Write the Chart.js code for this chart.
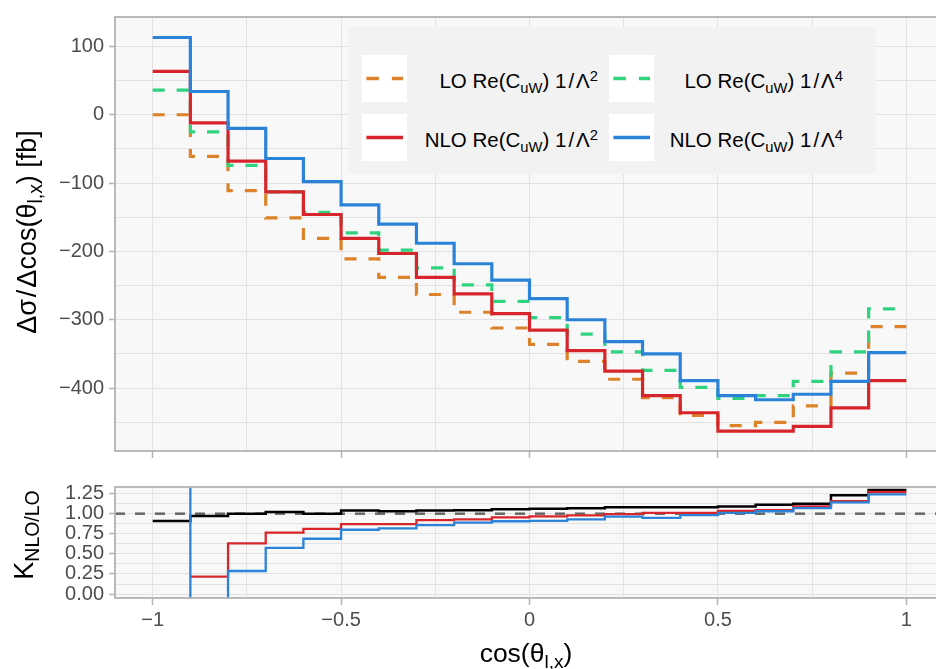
<!DOCTYPE html>
<html>
<head>
<meta charset="utf-8">
<script src="https://cdn.jsdelivr.net/npm/chart.js@4.4.1/dist/chart.umd.min.js"></script>
<style>
  html, body { margin: 0; padding: 0; width: 936px; height: 669px; overflow: hidden; background: #fff; }
  body { position: relative; font-family: "Liberation Sans", Arial, sans-serif; color: #000; }
  canvas { position: absolute; left: 0; }
  #topChart { top: 0; }
  #ratioChart { top: 470px; }
  sub { font-size: 0.72em; vertical-align: -0.32em; line-height: 0; }
  sup { font-size: 0.72em; vertical-align: 0.5em; line-height: 0; }
  .title { position: absolute; white-space: nowrap; transform: translate(-50%, -50%); font-size: 26.5px; }
  .title.rot { transform: translate(-50%, -50%) rotate(-90deg); }
  .sl { margin: 0 2px; }
  #legend { position: absolute; left: 348px; top: 27px; width: 528px; height: 147px; background: #f2f2f2; }
  .key { position: absolute; width: 45px; height: 47px; background: #fff; }
  .lab { position: absolute; height: 47px; line-height: 47px; text-align: right; font-size: 20.5px; white-space: nowrap; }
</style>
</head>
<body>
<canvas id="topChart" width="944" height="470"></canvas>
<canvas id="ratioChart" width="944" height="199"></canvas>

<div class="title rot" style="left:27px; top:232px; font-size:27px;">Δσ<span class="sl">/</span>Δcos(θ<sub>l,x</sub>) [fb]</div>
<div class="title rot" style="left:24px; top:535px; font-size:27px;">K<sub>NLO/LO</sub></div>
<div class="title" style="left:526px; top:653px;">cos(θ<sub>l,x</sub>)</div>
<div id="legend"></div>

<script>
// bin edges of cos(theta_l,x)
const binEdges = [-1, -0.9, -0.8, -0.7, -0.6, -0.5, -0.4, -0.3, -0.2, -0.1, 0,
                  0.1, 0.2, 0.3, 0.4, 0.5, 0.6, 0.7, 0.8, 0.9, 1];

// d sigma / d cos [fb], one value per bin
const loL2  = [0, -61, -111, -151, -181, -211, -238, -263, -289, -312,
               -336, -361, -387, -414, -440, -455, -450, -426, -378, -310];
const loL4  = [36, -25, -74, -113, -143, -173, -198, -224, -249, -273,
               -297, -321, -347, -374, -399, -415, -411, -390, -347, -284];
const nloL2 = [63.5, -12, -68, -113, -146, -181, -203, -238, -262, -291,
               -315, -345, -375, -411, -436, -463, -463, -456, -429, -389];
const nloL4 = [113, 34, -20, -64, -98, -132, -160, -188, -218, -242,
               -269, -300, -332, -350, -389, -411, -417, -409, -390, -348];

// K factors NLO/LO
const kBlack = [0.91, 0.97, 1.00, 1.02, 1.00, 1.04, 1.03, 1.04, 1.044, 1.056,
                1.06, 1.068, 1.08, 1.08, 1.08, 1.088, 1.11, 1.125, 1.23, 1.295];
const kL2    = [null, 0.218, 0.63, 0.765, 0.81, 0.87, 0.87, 0.92, 0.93, 0.955,
                0.967, 0.98, 0.995, 1.01, 1.01, 1.035, 1.044, 1.092, 1.157, 1.27];
const kL4    = [3.1, -1.4, 0.287, 0.574, 0.688, 0.80, 0.817, 0.858, 0.89, 0.906,
                0.91, 0.93, 0.963, 0.947, 0.983, 1.01, 1.03, 1.068, 1.14, 1.24];
const kRef = 1;

// ticks
const xTicks = [-1, -0.75, -0.5, -0.25, 0, 0.25, 0.5, 0.75, 1];
const yTicksTop = [-450, -400, -350, -300, -250, -200, -150, -100, -50, 0, 50, 100];
const yTicksRatio = [0, 0.125, 0.25, 0.375, 0.5, 0.625, 0.75, 0.875, 1, 1.125, 1.25];

const seriesNames = [
  'LO Re(C<sub>uW</sub>) 1<span class="sl">/</span>Λ<sup>2</sup>',
  'LO Re(C<sub>uW</sub>) 1<span class="sl">/</span>Λ<sup>4</sup>',
  'NLO Re(C<sub>uW</sub>) 1<span class="sl">/</span>Λ<sup>2</sup>',
  'NLO Re(C<sub>uW</sub>) 1<span class="sl">/</span>Λ<sup>4</sup>'
];

const ORANGE = '#dc8228', GREEN = '#2fd37f', RED = '#d7262b', BLUE = '#2b82d9';
const FONT = { family: "'Liberation Sans', Arial, sans-serif", size: 20 };

function steps(vals) {
  const pts = vals.map((v, i) => ({ x: binEdges[i], y: v }));
  pts.push({ x: binEdges[vals.length], y: vals[vals.length - 1] });
  return pts;
}

function minus(v) {
  return v < 0 ? '\u2212' + String(-v) : String(v);
}

const isMajorX = v => Math.abs(v * 2 - Math.round(v * 2)) < 1e-9;

// panel background + border like ggplot
const panel = {
  id: 'panel',
  beforeDraw(chart) {
    const { ctx, chartArea: a } = chart;
    ctx.save();
    ctx.fillStyle = '#f8f8f8';
    ctx.fillRect(a.left, a.top, a.right - a.left, a.bottom - a.top);
    ctx.restore();
  },
  afterDraw(chart) {
    const { ctx, chartArea: a } = chart;
    ctx.save();
    ctx.strokeStyle = '#b3b3b3';
    ctx.lineWidth = 1.8;
    ctx.strokeRect(a.left, a.top, a.right - a.left, a.bottom - a.top);
    ctx.restore();
  }
};

function xScale(showLabels, height) {
  return {
    type: 'linear', min: -1.1, max: 1.1,
    afterBuildTicks: s => { s.ticks = xTicks.map(v => ({ value: v })); },
    afterFit: s => { s.height = height; },
    border: { display: false },
    grid: {
      color: '#e2e2e2', lineWidth: 1, tickLength: 7, tickWidth: 1.5,
      tickColor: c => isMajorX(c.tick.value) ? '#b3b3b3' : 'rgba(0,0,0,0)'
    },
    ticks: {
      display: showLabels, autoSkip: false, maxRotation: 0, padding: 3,
      color: '#4d4d4d', font: FONT,
      callback: v => isMajorX(v) ? minus(v) : ''
    }
  };
}

function yScale(min, max, ticks, isMajor, fmt) {
  return {
    type: 'linear', min: min, max: max,
    afterBuildTicks: s => { s.ticks = ticks.map(v => ({ value: v })); },
    afterFit: s => { s.width = 115; },
    border: { display: false },
    grid: {
      color: '#e2e2e2', lineWidth: 1, tickLength: 6, tickWidth: 1.5,
      tickColor: c => isMajor(c.tick.value) ? '#b3b3b3' : 'rgba(0,0,0,0)'
    },
    ticks: {
      autoSkip: false, padding: 5, color: '#4d4d4d', font: FONT,
      callback: v => isMajor(v) ? fmt(v) : ''
    }
  };
}

function stepLine(data, color, width, dash, order) {
  return {
    data: steps(data), borderColor: color, borderWidth: width,
    borderDash: dash || [], stepped: true, pointRadius: 0,
    fill: false, clip: 0, order: order
  };
}

new Chart(document.getElementById('topChart'), {
  type: 'line',
  data: {
    datasets: [
      stepLine(nloL4, BLUE, 3.2, null, 1),
      stepLine(nloL2, RED, 3.2, null, 2),
      stepLine(loL4, GREEN, 3.2, [12, 12], 3),
      stepLine(loL2, ORANGE, 3.2, [12, 12], 4)
    ]
  },
  options: {
    responsive: false, animation: false,
    layout: { padding: { top: 13, left: 0, right: 0, bottom: 0 } },
    plugins: { legend: { display: false }, tooltip: { enabled: false } },
    scales: {
      x: xScale(false, 19),
      y: yScale(-492, 143, yTicksTop, v => v % 100 === 0, minus)
    }
  },
  plugins: [panel]
});

new Chart(document.getElementById('ratioChart'), {
  type: 'line',
  data: {
    datasets: [
      stepLine(kL4, BLUE, 2.3, null, 1),
      stepLine(kL2, RED, 2.3, null, 2),
      stepLine(kBlack, '#000000', 2.5, null, 3),
      {
        data: [{ x: -1.1, y: kRef }, { x: 1.1, y: kRef }],
        borderColor: '#666666', borderWidth: 2.5, borderDash: [10, 10],
        pointRadius: 0, fill: false, clip: 0, order: 4
      }
    ]
  },
  options: {
    responsive: false, animation: false,
    layout: { padding: { top: 15, left: 0, right: 0, bottom: 0 } },
    plugins: { legend: { display: false }, tooltip: { enabled: false } },
    scales: {
      x: xScale(true, 71),
      y: yScale(-0.049, 1.332, yTicksRatio,
                v => Math.abs(v * 4 - Math.round(v * 4)) < 1e-9,
                v => v.toFixed(2))
    }
  },
  plugins: [panel]
});

// legend, ggplot style (2 columns)
const legendItems = [
  { name: seriesNames[0], color: ORANGE, dash: '12.5 13', col: 0, row: 0 },
  { name: seriesNames[1], color: GREEN, dash: '12.5 13', col: 1, row: 0 },
  { name: seriesNames[2], color: RED, dash: '', col: 0, row: 1 },
  { name: seriesNames[3], color: BLUE, dash: '', col: 1, row: 1 }
];
const legend = document.getElementById('legend');
legendItems.forEach(it => {
  const keyLeft = it.col === 0 ? 14 : 261;
  const top = it.row === 0 ? 28 : 87;
  const key = document.createElement('div');
  key.className = 'key';
  key.style.left = keyLeft + 'px';
  key.style.top = top + 'px';
  key.innerHTML = '<svg width="45" height="47"><line x1="4.4" y1="23.5" x2="41" y2="23.5" stroke="' +
    it.color + '" stroke-width="3.4"' + (it.dash ? ' stroke-dasharray="' + it.dash + '"' : '') + '/></svg>';
  legend.appendChild(key);
  const lab = document.createElement('div');
  lab.className = 'lab';
  lab.style.left = (keyLeft + 46) + 'px';
  lab.style.width = (it.col === 0 ? 190 : 188) + 'px';
  lab.style.top = (top + 2) + 'px';
  lab.innerHTML = it.name;
  legend.appendChild(lab);
});
</script>
</body>
</html>
